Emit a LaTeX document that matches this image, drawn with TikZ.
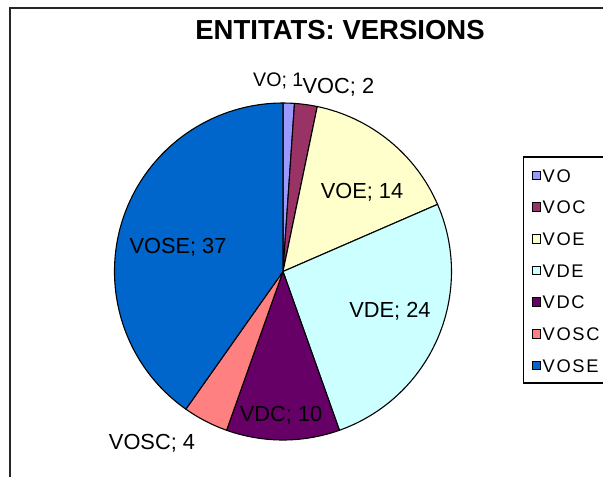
\documentclass[tikz,border=0pt]{standalone}
\usepackage{fontspec}
\setmainfont{Liberation Sans}
\newfontfamily\legfont[LetterSpace=9]{Liberation Sans}
\definecolor{cVO}{HTML}{9999FF}
\definecolor{cVOC}{HTML}{993366}
\definecolor{cVOE}{HTML}{FFFFCC}
\definecolor{cVDE}{HTML}{CCFFFF}
\definecolor{cVDC}{HTML}{660066}
\definecolor{cVOSC}{HTML}{FF8080}
\definecolor{cVOSE}{HTML}{0066CC}
\tikzset{
  slice/.style={draw=black, line width=1.1pt, line join=round},
  lbl/.style={font=\fontsize{21.8}{21.8}\selectfont, inner sep=0pt, anchor=base},
  legsq/.style={draw=black, line width=0.9pt, minimum size=8.5pt, inner sep=0pt},
  legtx/.style={font=\legfont\fontsize{18.3}{18.3}\selectfont, inner sep=0pt, anchor=base west},
}
\newcommand{\pieslice}[3]{%
  \filldraw[slice, fill=#1] (pc) -- ++(#2:168.5pt) arc[start angle=#2, end angle=#3, radius=168.5pt] -- cycle;}
\begin{document}
\begin{tikzpicture}[x=1pt, y=-1pt]
\useasboundingbox (0,0) rectangle (603,477);
\clip (0,0) rectangle (603,477);
\fill[white] (0,0) rectangle (603,477);
% outer frame
\draw[line width=1.4pt, black!85] (10,8) rectangle (720,600);
% title
\node[font=\fontsize{27.5}{27.5}\selectfont\bfseries, inner sep=0pt, anchor=base] (title) at (340,39.5) {ENTITATS: VERSIONS};
% pie
\coordinate (pc) at (283,271.5);
\pieslice{cVO}{90}{86.087}
\pieslice{cVOC}{86.087}{78.261}
\pieslice{cVOE}{78.261}{23.478}
\pieslice{cVDE}{23.478}{-70.435}
\pieslice{cVDC}{-70.435}{-109.565}
\pieslice{cVOSC}{-109.565}{-125.217}
\pieslice{cVOSE}{-125.217}{-270}
% labels
\node[lbl, anchor=base west, font=\fontsize{19.6}{19.6}\selectfont] (lVO) at (253,86) {VO; 1};
\node[lbl, anchor=base west] (lVOC) at (302.5,93) {VOC; 2};
\node[lbl] (lVOE) at (362,198) {VOE; 14};
\node[lbl] (lVDE) at (390,317) {VDE; 24};
\node[lbl] (lVDC) at (281,421) {VDC; 10};
\node[lbl] (lVOSC) at (152,449) {VOSC; 4};
\node[lbl] (lVOSE) at (178,253) {VOSE; 37};
% legend
\draw[line width=1.1pt, black] (523.5,157) rectangle (720,383);
\foreach \n/\c [count=\i from 0] in {VO/cVO, VOC/cVOC, VOE/cVOE, VDE/cVDE, VDC/cVDC, VOSC/cVOSC, VOSE/cVOSE}{
  \node[legsq, fill=\c] (sq\n) at (536.5,{175.5+31.67*\i}) {};
  \node[legtx] (lg\n) at (542.5,{182+31.67*\i}) {\n};
}
\end{tikzpicture}
\end{document}
